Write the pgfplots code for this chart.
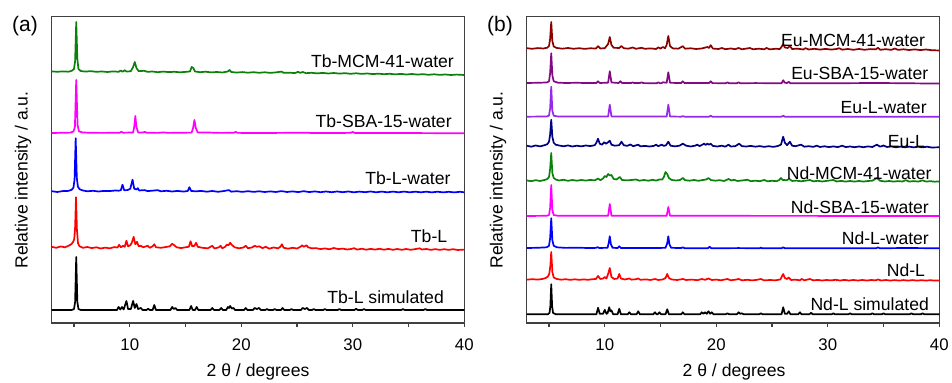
\documentclass[border=0pt]{standalone}
\usepackage{fontspec}
\setmainfont{Liberation Sans}
\usepackage{pgfplots}
\pgfplotsset{compat=1.18}
\definecolor{cgreen}{RGB}{10,130,10}
\definecolor{cmag}{RGB}{255,0,255}
\definecolor{cblue}{RGB}{0,0,255}
\definecolor{cred}{RGB}{255,0,0}
\definecolor{cdred}{RGB}{140,0,0}
\definecolor{cpurp}{RGB}{130,10,130}
\definecolor{cviol}{RGB}{150,40,235}
\definecolor{cnavy}{RGB}{0,0,130}
\pgfplotsset{xrdax/.style={scale only axis, width=206.3pt, height=153.15pt,
  xmin=3, xmax=40, ymin=0, ymax=306.3,
  xtick={10,20,30,40}, minor xtick={5,15,25,35}, ytick=\empty,
  tick align=outside, xtick pos=left, major tick length=2pt, minor tick length=2pt,
  axis line style={line width=0.6pt, color=black!75},
  every tick/.style={black!75, line width=0.6pt},
  tick label style={font=\fontsize{8.4}{9}\selectfont},
  xticklabel style={yshift=-2.2pt},
  /pgf/number format/assume math mode=true,
  every axis plot/.append style={line width=0.85pt, mark=none, line join=round},
  anchor=south west}}
\newcommand{\lab}{\fontsize{8.8}{10}\selectfont}
\begin{document}
\begin{tikzpicture}
\path[use as bounding box] (0,0) rectangle (476pt,191.5pt);
% ---------------- panel (a)
\begin{axis}[xrdax, at={(25.85pt,30pt)}]
\addplot[cgreen] table[row sep=\\, y expr=\thisrowno{1}+250] {x y\\
3 1.6\\ 3.5 1.2\\ 4 1.6\\ 4.5 1.3\\ 4.8 2.2\\ 5 4\\ 5.1 12\\ 5.2 51\\ 5.3 14\\ 5.4 4\\ 5.6 2\\ 6 1.4\\ 6.5 1.8\\ 7 1.2\\ 7.5 1.5\\ 8 1.0\\ 8.5 1.6\\ 9 1.2\\ 9.2 2.5\\ 9.35 1.2\\ 9.55 2.8\\ 9.7 1.4\\ 10.1 1.8\\ 10.3 6\\ 10.45 11\\ 10.6 5\\ 10.8 1.8\\ 11.3 2.2\\ 11.6 1.1\\ 12 1.5\\ 12.5 0.8\\ 13 1.4\\ 13.5 0.9\\ 14 1.2\\ 14.5 0.7\\ 15 1.1\\ 15.4 1.5\\ 15.55 6\\ 15.7 5\\ 15.85 1.5\\ 16.3 0.8\\ 16.8 1.3\\ 17.3 0.6\\ 17.8 1.0\\ 18.3 0.5\\ 18.8 1.5\\ 18.95 3\\ 19.1 1\\ 19.6 0.4\\ 20.1 0.9\\ 20.6 0.3\\ 21.1 0.8\\ 21.6 0.2\\ 22.1 0.7\\ 22.6 0.1\\ 23.1 0.6\\ 23.6 1.4\\ 23.8 0.2\\ 24.3 0.3\\ 24.8 -0.1\\ 25.1 1.2\\ 25.3 0.1\\ 25.5 1.0\\ 25.8 -0.2\\ 26.3 0.2\\ 26.8 -0.4\\ 27.3 0.1\\ 27.8 -0.5\\ 28.3 0\\ 28.8 -0.6\\ 29.3 -0.2\\ 29.8 -0.8\\ 30.3 -0.3\\ 30.8 -0.9\\ 31.3 -0.5\\ 31.8 -1.1\\ 32.3 -0.7\\ 32.8 -1.2\\ 33.3 -0.8\\ 33.8 -1.4\\ 34.3 -0.9\\ 34.8 -1.5\\ 35.3 -1.0\\ 35.8 -1.6\\ 36.3 -1.2\\ 36.8 -1.8\\ 37.3 -1.3\\ 37.8 -1.9\\ 38.3 -1.5\\ 38.8 -2.0\\ 39.3 -1.6\\ 40 -2.0\\
};
\addplot[cmag] table[row sep=\\, y expr=\thisrowno{1}+190] {x y\\
3 0\\ 4 0.2\\ 4.7 0.4\\ 4.95 1.5\\ 5.08 6\\ 5.2 53\\ 5.32 8\\ 5.45 1.5\\ 5.8 0.5\\ 6.5 0.2\\ 7.5 0.1\\ 8.5 0.2\\ 9.1 0.3\\ 9.25 1.2\\ 9.4 0.3\\ 10.3 0.5\\ 10.4 6\\ 10.5 17\\ 10.6 6\\ 10.75 0.6\\ 11.2 0.4\\ 11.35 1.2\\ 11.5 0.3\\ 12.5 0.1\\ 13 0.6\\ 13.5 0.1\\ 15.55 0.4\\ 15.68 5\\ 15.8 13\\ 15.92 5\\ 16.1 0.4\\ 17 0.5\\ 18 0.1\\ 19.3 0.2\\ 19.5 1\\ 19.7 0.1\\ 22 0\\ 26 0.3\\ 26.2 0\\ 29 0\\ 29.8 0.2\\ 30 1\\ 30.2 0\\ 34 0\\ 40 -0.3\\
};
\addplot[cblue] table[row sep=\\, y expr=\thisrowno{1}+131.3] {x y\\
3 0.5\\ 3.5 -0.3\\ 4 0.6\\ 4.5 0.8\\ 4.8 2\\ 4.95 4\\ 5.05 12\\ 5.15 53.5\\ 5.25 14\\ 5.35 5\\ 5.5 2.5\\ 5.8 1.2\\ 6.2 0.4\\ 6.7 0.9\\ 7.2 0.2\\ 7.7 0.8\\ 8.2 0.6\\ 8.7 1.2\\ 9.0 1.0\\ 9.2 1.5\\ 9.35 7\\ 9.5 1.5\\ 9.8 1.6\\ 10.05 3\\ 10.25 12\\ 10.4 3\\ 10.6 2.2\\ 10.72 3.5\\ 10.85 1.2\\ 11.3 1.6\\ 11.6 0.6\\ 12 1.0\\ 12.5 1.5\\ 12.8 0.4\\ 13.3 0.9\\ 13.8 0.2\\ 14.3 0.8\\ 14.8 0.1\\ 15.2 0.7\\ 15.35 4.5\\ 15.5 0.8\\ 15.9 0.3\\ 16.4 0.8\\ 16.9 0\\ 17.4 0.7\\ 17.9 -0.1\\ 18.4 0.6\\ 18.9 1.6\\ 19.1 0\\ 19.6 0.5\\ 20.1 -0.2\\ 20.6 0.5\\ 21.1 -0.2\\ 21.6 0.4\\ 22.1 -0.3\\ 22.6 0.3\\ 23.1 -0.3\\ 23.6 0.6\\ 24.1 -0.3\\ 24.6 0.3\\ 25.1 -0.4\\ 25.6 0.5\\ 26.1 -0.4\\ 26.6 0.3\\ 27.1 -0.5\\ 27.6 0.2\\ 28.1 -0.5\\ 28.6 0.2\\ 29.1 -0.5\\ 29.6 0.2\\ 30.1 -0.6\\ 30.6 0.1\\ 31.1 -0.5\\ 31.6 0.2\\ 32.1 -0.6\\ 32.6 0.1\\ 33.1 -0.6\\ 33.6 0.1\\ 34.1 -0.6\\ 34.6 0.1\\ 35.1 -0.6\\ 35.6 0\\ 36.1 -0.6\\ 36.6 0\\ 37.1 -0.7\\ 37.6 0\\ 38.1 -0.7\\ 38.6 -0.1\\ 39.1 -0.7\\ 39.6 -0.1\\ 40 -0.6\\
};
\addplot[cred] table[row sep=\\, y expr=\thisrowno{1}+73.7] {x y\\
3 2.5\\ 3.4 1.5\\ 3.8 2.8\\ 4.2 2\\ 4.5 3.5\\ 4.75 5\\ 4.9 7\\ 5.02 10\\ 5.1 22\\ 5.18 52\\ 5.26 20\\ 5.36 6\\ 5.5 3\\ 5.8 1.5\\ 6.2 2.3\\ 6.6 1.2\\ 7 2\\ 7.4 0.8\\ 7.8 1.7\\ 8.2 0.9\\ 8.6 2.2\\ 8.9 1.8\\ 9.05 4.5\\ 9.2 2\\ 9.4 3.5\\ 9.55 2.5\\ 9.7 8.5\\ 9.85 3\\ 10.05 4\\ 10.2 7\\ 10.35 12.5\\ 10.5 5\\ 10.65 7.5\\ 10.8 3\\ 11.0 3.5\\ 11.2 2\\ 11.6 3.5\\ 11.8 1.5\\ 12.05 3\\ 12.2 5\\ 12.35 2\\ 12.8 1.5\\ 13.2 2.2\\ 13.6 3\\ 13.8 5.5\\ 14.0 4\\ 14.2 2\\ 14.6 1.2\\ 15.0 2\\ 15.3 2.5\\ 15.45 8\\ 15.6 3\\ 15.8 3.5\\ 15.95 6.5\\ 16.1 2.5\\ 16.5 1.5\\ 17 1\\ 17.4 3.5\\ 17.6 0.8\\ 18.0 2\\ 18.15 3.5\\ 18.3 1\\ 18.55 2.5\\ 18.7 4.5\\ 18.85 4\\ 19.0 6.5\\ 19.15 4.5\\ 19.4 2\\ 19.8 1\\ 20.2 1.8\\ 20.4 3.5\\ 20.6 1\\ 21.0 2\\ 21.2 3.5\\ 21.4 2.5\\ 21.6 3\\ 21.9 1.2\\ 22.2 2.5\\ 22.5 0.6\\ 22.9 1.8\\ 23.3 1\\ 23.5 2.5\\ 23.65 5\\ 23.8 1.5\\ 24.2 0.6\\ 24.6 1.5\\ 25.0 0.8\\ 25.3 2.5\\ 25.45 4\\ 25.6 2.5\\ 25.85 4\\ 26.0 2\\ 26.3 1\\ 26.7 1.2\\ 27.1 0.2\\ 27.5 0.9\\ 27.9 0\\ 28.3 1.3\\ 28.7 0.2\\ 29.1 0.7\\ 29.5 -0.2\\ 29.9 0.4\\ 30.1 1.2\\ 30.4 -0.3\\ 30.8 0.6\\ 31.2 -0.4\\ 31.6 0.4\\ 32.0 -0.3\\ 32.4 0.5\\ 32.8 -0.4\\ 33.2 0.4\\ 33.6 -0.5\\ 34.0 0.3\\ 34.4 -0.5\\ 34.8 0.3\\ 35.2 -0.5\\ 35.6 0.2\\ 36.0 1\\ 36.2 -0.2\\ 36.6 0.3\\ 37.0 -0.6\\ 37.4 0.2\\ 37.8 -0.6\\ 38.2 0.1\\ 38.6 -0.6\\ 39.0 0.1\\ 39.4 -0.7\\ 40 -0.3\\
};
\addplot[black] table[row sep=\\, y expr=\thisrowno{1}+13] {x y\\
3 0\\ 4.8 0\\ 5.0 1\\ 5.1 8\\ 5.2 53\\ 5.3 8\\ 5.4 1\\ 5.6 0\\ 8.85 0\\ 9.0 3\\ 9.15 0.5\\ 9.3 3\\ 9.45 0.5\\ 9.7 9\\ 9.85 1\\ 10.1 1\\ 10.3 9\\ 10.45 2\\ 10.6 6\\ 10.75 1\\ 11.0 2\\ 11.15 0\\ 11.5 0\\ 11.65 1.2\\ 11.8 0\\ 12.05 0\\ 12.2 5\\ 12.35 0\\ 13.65 0\\ 13.8 3\\ 13.95 1\\ 14.1 2\\ 14.25 0\\ 15.35 0\\ 15.5 4\\ 15.65 0\\ 15.85 0\\ 16.0 3\\ 16.15 0\\ 17.25 0\\ 17.4 2\\ 17.55 0\\ 18.05 0\\ 18.2 2\\ 18.35 0\\ 18.65 0\\ 18.8 3\\ 18.9 2\\ 19.0 4\\ 19.15 1.5\\ 19.3 2\\ 19.45 0\\ 20.25 0\\ 20.4 2\\ 20.55 0\\ 21.05 0\\ 21.2 2\\ 21.4 1\\ 21.6 2\\ 21.75 0\\ 22.15 0\\ 22.3 1\\ 22.45 0\\ 22.85 0\\ 23.0 1\\ 23.15 0\\ 23.55 0\\ 23.7 2\\ 23.85 0\\ 24.35 0\\ 24.5 1\\ 24.65 0\\ 25.35 0\\ 25.5 2\\ 25.7 1\\ 25.9 2\\ 26.05 0\\ 26.35 0\\ 26.5 1\\ 26.65 0\\ 27.35 0\\ 27.5 1\\ 27.65 0\\ 28.65 0\\ 28.8 1\\ 28.95 0\\ 30.15 0\\ 30.3 1.2\\ 30.45 0\\ 30.85 0\\ 31.0 1\\ 31.15 0\\ 34.35 0\\ 34.5 1\\ 34.65 0\\ 36.35 0\\ 36.5 1\\ 36.65 0\\ 40 0\\
};
\node[anchor=east, font=\lab, inner sep=0pt] at (axis cs:39.1,261.3) {Tb-MCM-41-water};
\node[anchor=east, font=\lab, inner sep=0pt] at (axis cs:38.9,201.3) {Tb-SBA-15-water};
\node[anchor=east, font=\lab, inner sep=0pt] at (axis cs:38.8,144.7) {Tb-L-water};
\node[anchor=east, font=\lab, inner sep=0pt] at (axis cs:38.5,86.3) {Tb-L};
\node[anchor=east, font=\lab, inner sep=0pt] at (axis cs:38.2,25.7) {Tb-L simulated};
\end{axis}
% ---------------- panel (b)
\begin{axis}[xrdax, at={(263.35pt,30pt)}]
\addplot[cdred] table[row sep=\\, y expr=\thisrowno{1}+274] {x y\\
3 0.8\\ 3.5 0.2\\ 4 0.9\\ 4.5 0.5\\ 4.85 1.3\\ 5.0 3\\ 5.1 10\\ 5.2 27\\ 5.3 8\\ 5.42 2.5\\ 5.7 1\\ 6.2 0.3\\ 6.7 1\\ 7.2 0.2\\ 7.7 0.8\\ 8.2 0.1\\ 8.7 0.7\\ 9.2 0.5\\ 9.4 2.8\\ 9.6 0.5\\ 10.0 0.8\\ 10.3 5\\ 10.45 12\\ 10.6 4\\ 10.8 1.2\\ 11.3 1\\ 11.5 3\\ 11.7 0.8\\ 12.1 0.3\\ 12.5 1.5\\ 12.8 0.2\\ 13.3 1.2\\ 13.6 0.2\\ 14.1 0.6\\ 14.6 0\\ 14.8 1.6\\ 15.0 0.4\\ 15.2 2\\ 15.4 0.8\\ 15.55 4\\ 15.7 13\\ 15.85 3\\ 16.1 0.6\\ 16.6 0.3\\ 17.0 2.8\\ 17.2 0.3\\ 17.7 0.7\\ 18.2 0\\ 18.7 0.5\\ 19.2 2\\ 19.35 1\\ 19.5 3.8\\ 19.7 0.4\\ 20.2 0\\ 20.5 1\\ 20.8 -0.2\\ 21.3 0.5\\ 21.7 -0.2\\ 22.0 1\\ 22.3 -0.3\\ 22.7 0.4\\ 23.0 1\\ 23.3 -0.3\\ 23.8 0.3\\ 24.3 -0.3\\ 24.5 1\\ 24.8 -0.4\\ 25.3 0.2\\ 25.7 0\\ 25.85 2\\ 26.0 5\\ 26.15 1.5\\ 26.4 1\\ 26.6 3\\ 26.8 0\\ 27.3 0.3\\ 27.8 -0.5\\ 28.0 0.8\\ 28.3 -0.5\\ 28.8 0.2\\ 29.3 -0.6\\ 29.8 0.1\\ 30.3 -0.6\\ 30.8 0\\ 31.0 0.8\\ 31.3 -0.7\\ 31.8 0\\ 32.3 -0.8\\ 32.8 0\\ 33.3 -0.8\\ 33.8 -0.1\\ 34.3 -0.4\\ 34.5 1.2\\ 34.7 -0.8\\ 35.2 -0.2\\ 35.7 -0.9\\ 36.0 0.5\\ 36.3 -0.9\\ 36.8 -0.3\\ 37.3 -1\\ 37.8 -0.4\\ 38.3 -1.1\\ 38.8 -0.5\\ 39.3 -1.2\\ 40 -1.5\\
};
\addplot[cpurp] table[row sep=\\, y expr=\thisrowno{1}+239.7] {x y\\
3 0.3\\ 4 0.5\\ 4.8 0.8\\ 5.0 2\\ 5.1 10\\ 5.2 30\\ 5.3 8\\ 5.42 2\\ 5.8 0.6\\ 6.5 0.3\\ 7.5 0.5\\ 8.5 0.2\\ 9.25 0.3\\ 9.4 2\\ 9.55 0.3\\ 10.3 0.6\\ 10.45 12\\ 10.6 0.8\\ 11.25 0.3\\ 11.4 2\\ 11.55 0.3\\ 12.35 0.2\\ 12.5 1\\ 12.65 0.2\\ 13.15 0.2\\ 13.3 1\\ 13.45 0.2\\ 14.65 0\\ 14.8 1\\ 14.95 0\\ 15.1 0.2\\ 15.2 1\\ 15.55 0.5\\ 15.7 11\\ 15.85 0.5\\ 16.85 0.2\\ 17.0 2\\ 17.15 0.2\\ 19.35 0.2\\ 19.5 2\\ 19.65 0.2\\ 20.85 0\\ 21.0 1\\ 21.15 0\\ 21.85 0\\ 22.0 1\\ 22.15 0\\ 23.5 0.2\\ 25.85 0\\ 26.0 3\\ 26.15 0.5\\ 26.35 0.3\\ 26.5 1.5\\ 26.65 0\\ 30 0\\ 34.5 0.3\\ 40 -0.3\\
};
\addplot[cviol] table[row sep=\\, y expr=\thisrowno{1}+206.3] {x y\\
3 0\\ 4.8 0.2\\ 5.0 1.2\\ 5.1 8\\ 5.2 30\\ 5.3 6\\ 5.42 1\\ 5.8 0.2\\ 10.3 0.2\\ 10.45 12\\ 10.6 0.2\\ 15.55 0.2\\ 15.7 12\\ 15.85 0.2\\ 16.85 0\\ 17.0 0.6\\ 17.15 0\\ 19.35 0\\ 19.5 1\\ 19.65 0\\ 25.85 0\\ 26.0 1\\ 26.15 0\\ 40 0\\
};
\addplot[cnavy] table[row sep=\\, y expr=\thisrowno{1}+176.3] {x y\\
3 1\\ 3.4 0\\ 3.8 1.2\\ 4.2 0.3\\ 4.6 1.5\\ 4.85 2.5\\ 5.0 5\\ 5.1 12\\ 5.2 27\\ 5.3 10\\ 5.42 4\\ 5.6 2\\ 5.9 1.2\\ 6.3 0.4\\ 6.7 1.3\\ 7.1 0.2\\ 7.5 1\\ 7.9 0.3\\ 8.3 1.2\\ 8.7 0.6\\ 9.1 1.5\\ 9.25 4\\ 9.4 8\\ 9.55 3\\ 9.75 2\\ 9.95 4.5\\ 10.1 3\\ 10.25 4\\ 10.45 6\\ 10.6 2\\ 10.9 1\\ 11.3 1.5\\ 11.5 5\\ 11.7 1.5\\ 12.0 0.8\\ 12.3 2.2\\ 12.55 0.5\\ 13.0 2\\ 13.2 0.3\\ 13.6 0.8\\ 14.0 0.2\\ 14.4 0.8\\ 14.6 2\\ 14.8 0.5\\ 15.1 2\\ 15.3 0.8\\ 15.5 1.5\\ 15.7 5\\ 15.9 1\\ 16.3 0.3\\ 16.7 1\\ 17.0 3\\ 17.3 1\\ 17.7 0.2\\ 18.1 1\\ 18.3 2\\ 18.5 0.6\\ 18.75 2\\ 18.9 3\\ 19.05 1.8\\ 19.2 3\\ 19.35 2\\ 19.5 3\\ 19.7 0.8\\ 20.1 0.2\\ 20.5 1\\ 20.8 0\\ 21.1 2\\ 21.3 0.2\\ 21.7 0.5\\ 22.05 3\\ 22.3 0.5\\ 22.7 0.2\\ 23.1 0.8\\ 23.5 0\\ 23.9 0.6\\ 24.3 -0.2\\ 24.7 0.5\\ 25.1 -0.2\\ 25.5 0.6\\ 25.8 2\\ 26.0 10\\ 26.15 4\\ 26.35 1.5\\ 26.6 5\\ 26.8 1\\ 27.1 0.5\\ 27.6 2\\ 27.9 0\\ 28.3 0.5\\ 28.7 -0.2\\ 29.0 1\\ 29.3 -0.3\\ 29.7 0.4\\ 30.1 -0.4\\ 30.5 0.3\\ 30.9 -0.4\\ 31.3 1\\ 31.6 -0.4\\ 32.0 0.2\\ 32.4 -0.5\\ 32.8 0.2\\ 33.2 -0.5\\ 33.6 0.3\\ 34.0 -0.3\\ 34.4 2\\ 34.7 0\\ 35.0 1.2\\ 35.3 -0.3\\ 35.7 0.2\\ 36.1 -0.6\\ 36.5 0.1\\ 36.9 -0.6\\ 37.3 0.1\\ 37.7 -0.7\\ 38.1 0\\ 38.5 -0.7\\ 38.9 0\\ 39.3 -0.8\\ 40 -0.6\\
};
\addplot[cgreen] table[row sep=\\, y expr=\thisrowno{1}+142] {x y\\
3 0.6\\ 3.4 -0.2\\ 3.8 0.8\\ 4.2 0\\ 4.6 1\\ 4.85 2\\ 5.0 4\\ 5.1 12\\ 5.2 28\\ 5.3 8\\ 5.42 3\\ 5.6 1.5\\ 5.9 0.5\\ 6.3 1.2\\ 6.7 0.2\\ 7.1 1\\ 7.5 0.3\\ 7.9 1\\ 8.3 0.4\\ 8.7 1.1\\ 9.1 0.6\\ 9.4 2.5\\ 9.6 0.8\\ 9.85 2.5\\ 10.0 5\\ 10.15 4\\ 10.3 7\\ 10.45 5.5\\ 10.6 6\\ 10.8 2\\ 11.05 1.5\\ 11.35 4\\ 11.55 1\\ 12.0 0.6\\ 12.4 1\\ 12.8 1.5\\ 13.1 0.3\\ 13.5 1\\ 13.9 0.3\\ 14.3 1.2\\ 14.6 0.4\\ 14.9 1.5\\ 15.15 1.5\\ 15.3 4\\ 15.45 9\\ 15.6 7\\ 15.75 3\\ 16.0 1\\ 16.4 0.5\\ 16.75 1\\ 17.0 3\\ 17.2 0.8\\ 17.6 0.3\\ 18.0 1\\ 18.4 0.2\\ 18.8 1\\ 19.1 1.5\\ 19.3 3\\ 19.5 1\\ 19.9 0.3\\ 20.3 0.8\\ 20.7 0\\ 21.1 2\\ 21.35 0.5\\ 21.6 1.2\\ 21.9 0\\ 22.3 0.5\\ 22.8 1.2\\ 23.1 -0.2\\ 23.5 0.3\\ 23.9 -0.2\\ 24.3 1\\ 24.6 -0.3\\ 25.0 0.2\\ 25.4 -0.2\\ 25.65 1\\ 25.8 3\\ 25.95 1\\ 26.3 0.8\\ 26.55 2\\ 26.8 0\\ 27.2 0.4\\ 27.6 -0.3\\ 28.0 0.3\\ 28.4 1\\ 28.7 -0.4\\ 29.1 0.2\\ 29.5 -0.5\\ 29.9 0.1\\ 30.5 1\\ 30.8 -0.5\\ 31.2 0.1\\ 31.6 -0.6\\ 32.0 0\\ 32.4 -0.6\\ 32.8 0\\ 33.2 -0.6\\ 33.6 0\\ 34.0 0.3\\ 34.4 3\\ 34.7 0.2\\ 35.1 -0.5\\ 35.5 0\\ 35.9 -0.6\\ 36.3 -0.1\\ 36.7 -0.5\\ 37.0 0.8\\ 37.3 -0.6\\ 37.7 -0.1\\ 38.1 -0.6\\ 38.5 0.6\\ 38.8 -0.6\\ 39.2 -0.2\\ 39.6 -0.7\\ 40 -0.4\\
};
\addplot[cmag] table[row sep=\\, y expr=\thisrowno{1}+107] {x y\\
3 0\\ 4.8 0.2\\ 5.0 1\\ 5.1 8\\ 5.2 31\\ 5.3 6\\ 5.42 1\\ 5.8 0.2\\ 10.3 0.2\\ 10.45 12\\ 10.6 0.2\\ 15.55 0.2\\ 15.7 9\\ 15.85 0.2\\ 40 0\\
};
\addplot[cblue] table[row sep=\\, y expr=\thisrowno{1}+74.7] {x y\\
3 0.3\\ 4 0.5\\ 4.8 1\\ 5.0 2.5\\ 5.1 10\\ 5.2 30\\ 5.3 8\\ 5.42 2.5\\ 5.7 1\\ 6.5 0.4\\ 7.5 0.6\\ 8.5 0.3\\ 9.2 0.4\\ 9.35 1.2\\ 9.5 0.3\\ 10.25 0.5\\ 10.35 5\\ 10.45 12\\ 10.55 4\\ 10.7 0.5\\ 11.15 0.3\\ 11.3 2\\ 11.45 0.3\\ 12.5 0.2\\ 13.5 0.3\\ 14.5 0.2\\ 15.45 0.5\\ 15.6 5\\ 15.7 12\\ 15.8 4\\ 15.95 0.5\\ 16.85 0.2\\ 17.0 1\\ 17.15 0.1\\ 19.25 0.1\\ 19.4 1.5\\ 19.55 0\\ 22 0.2\\ 23.9 0\\ 24.0 0.8\\ 24.1 0\\ 25.85 0\\ 26.0 1\\ 26.15 0\\ 30 0\\ 34.35 0\\ 34.5 1\\ 34.65 0\\ 37 0.3\\ 40 0\\
};
\addplot[cred] table[row sep=\\, y expr=\thisrowno{1}+43] {x y\\
3 0.3\\ 3.5 0.8\\ 4 0.4\\ 4.4 1\\ 4.7 2\\ 4.9 3.5\\ 5.02 6\\ 5.12 14\\ 5.2 28\\ 5.3 8\\ 5.42 2.5\\ 5.7 1\\ 6.1 0.3\\ 6.5 0.8\\ 6.9 0.1\\ 7.3 0.7\\ 7.7 0.1\\ 8.1 0.6\\ 8.5 0.2\\ 8.9 0.8\\ 9.2 1\\ 9.4 4\\ 9.6 1\\ 9.85 1.5\\ 10.0 3\\ 10.15 1.5\\ 10.3 6\\ 10.45 12\\ 10.6 3\\ 10.85 1\\ 11.15 1.5\\ 11.3 6\\ 11.45 1.5\\ 11.8 0.5\\ 12.2 1.5\\ 12.4 0.3\\ 12.8 0.8\\ 13.0 1.5\\ 13.2 0.2\\ 13.7 0.6\\ 14.1 0\\ 14.5 1\\ 14.8 0\\ 15.2 0.5\\ 15.45 2\\ 15.6 6\\ 15.75 2\\ 16.0 0.5\\ 16.5 0\\ 17.0 1\\ 17.3 0\\ 17.8 0.4\\ 18.3 -0.2\\ 18.7 1\\ 19.0 0.2\\ 19.3 1.5\\ 19.6 0\\ 20.0 0.4\\ 20.4 -0.3\\ 21.0 1\\ 21.3 -0.3\\ 21.7 0.3\\ 22.0 1\\ 22.3 -0.3\\ 22.8 0.2\\ 23.2 -0.4\\ 23.6 0.1\\ 24.0 1\\ 24.3 -0.4\\ 24.8 0\\ 25.3 -0.3\\ 25.75 0.5\\ 25.9 4\\ 26.0 6\\ 26.15 2\\ 26.35 1\\ 26.5 2.5\\ 26.7 0\\ 27.1 0.3\\ 27.5 -0.3\\ 27.65 1\\ 27.9 -0.3\\ 28.4 1\\ 28.7 -0.4\\ 29.1 0.1\\ 29.5 -0.5\\ 29.9 0\\ 30.3 -0.4\\ 30.7 0.2\\ 31.1 -0.5\\ 31.5 0.1\\ 31.9 -0.5\\ 32.3 0\\ 32.7 -0.5\\ 33.1 0\\ 33.5 -0.5\\ 33.9 0\\ 34.3 -0.4\\ 34.5 0.5\\ 34.8 -0.5\\ 35.2 0\\ 35.6 -0.6\\ 36.0 -0.1\\ 36.4 -0.6\\ 36.8 -0.1\\ 37.2 -0.6\\ 37.6 -0.1\\ 38.0 -0.6\\ 38.4 -0.2\\ 38.8 -0.6\\ 39.2 -0.2\\ 39.6 -0.6\\ 40 -0.4\\
};
\addplot[black] table[row sep=\\, y expr=\thisrowno{1}+8.7] {x y\\
3 0\\ 4.9 0\\ 5.05 1.5\\ 5.12 8\\ 5.2 30\\ 5.28 8\\ 5.36 1.5\\ 5.6 0\\ 9.25 0\\ 9.4 6.5\\ 9.55 0.5\\ 9.85 0.5\\ 10.0 4.5\\ 10.15 0.5\\ 10.25 1\\ 10.4 7\\ 10.5 3\\ 10.6 4\\ 10.75 0\\ 11.15 0\\ 11.3 5.5\\ 11.45 0\\ 12.05 0\\ 12.2 2\\ 12.35 0\\ 12.85 0\\ 13.0 3\\ 13.15 0\\ 14.35 0\\ 14.5 2\\ 14.65 0\\ 14.75 0\\ 14.9 2\\ 15.05 0\\ 15.45 0\\ 15.6 5\\ 15.75 0\\ 16.85 0\\ 17.0 2\\ 17.15 0\\ 18.55 0\\ 18.7 2\\ 18.85 0.5\\ 19.0 2\\ 19.15 0.5\\ 19.3 3\\ 19.45 0.5\\ 19.6 2\\ 19.75 0\\ 20.85 0\\ 21.0 1\\ 21.15 0\\ 21.85 0\\ 22.0 2\\ 22.15 0.5\\ 22.3 1\\ 22.45 0\\ 23.85 0\\ 24.0 1\\ 24.15 0\\ 25.85 0\\ 26.0 7\\ 26.15 0.5\\ 26.35 0.5\\ 26.5 3\\ 26.65 0\\ 27.35 0\\ 27.5 2\\ 27.65 0\\ 28.35 0\\ 28.5 1.5\\ 28.65 0\\ 30.35 0\\ 30.5 1\\ 30.65 0\\ 31.85 0\\ 32.0 1\\ 32.15 0\\ 33.85 0\\ 34.0 1\\ 34.15 0\\ 34.85 0\\ 35.0 1\\ 35.15 0\\ 37.35 0\\ 37.5 1\\ 37.65 0\\ 38.35 0\\ 38.5 1\\ 38.65 0\\ 40 0\\
};
\node[anchor=east, font=\lab, inner sep=0pt] at (axis cs:38.75,282.3) {Eu-MCM-41-water};
\node[anchor=east, font=\lab, inner sep=0pt] at (axis cs:39.04,249.7) {Eu-SBA-15-water};
\node[anchor=east, font=\lab, inner sep=0pt] at (axis cs:38.9,215.7) {Eu-L-water};
\node[anchor=east, font=\lab, inner sep=0pt] at (axis cs:38.75,181.3) {Eu-L};
\node[anchor=east, font=\lab, inner sep=0pt] at (axis cs:39.34,149.7) {Nd-MCM-41-water};
\node[anchor=east, font=\lab, inner sep=0pt] at (axis cs:39.1,115.7) {Nd-SBA-15-water};
\node[anchor=east, font=\lab, inner sep=0pt] at (axis cs:39.1,84.7) {Nd-L-water};
\node[anchor=east, font=\lab, inner sep=0pt] at (axis cs:38.75,52.3) {Nd-L};
\node[anchor=east, font=\lab, inner sep=0pt] at (axis cs:39.1,18.7) {Nd-L simulated};
\end{axis}
% ---------------- outer texts
\node[rotate=90, font=\lab] at (11.5pt,101.5pt) {Relative intensity / a.u.};
\node[rotate=90, font=\lab] at (249pt,101.5pt) {Relative intensity / a.u.};
\node[font=\lab] at (129pt,5.65pt) {2 θ / degrees};
\node[font=\lab] at (367pt,5.65pt) {2 θ / degrees};
\node[font=\fontsize{10.5}{12}\selectfont] at (12.5pt,178.65pt) {(a)};
\node[font=\fontsize{10.5}{12}\selectfont] at (250pt,178.65pt) {(b)};
\end{tikzpicture}
\end{document}
